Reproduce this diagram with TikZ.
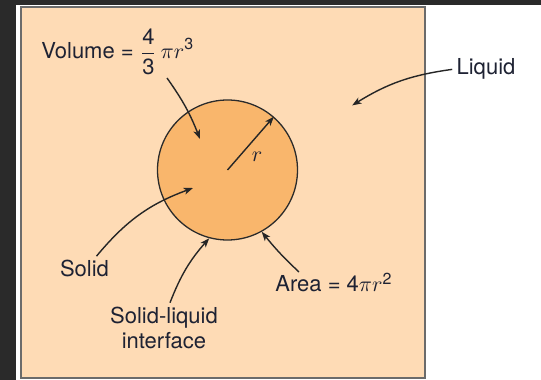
\documentclass[tikz,border=0pt]{standalone}
\usepackage{fontspec}
\setmainfont{TeX Gyre Heros}
\usepackage{tikz}
\usetikzlibrary{arrows.meta, positioning, calc}
\definecolor{pagedark}{HTML}{2A2A2A}
\definecolor{liqfill}{HTML}{FEDBB5}
\definecolor{liqline}{HTML}{6B6B6B}
\definecolor{solfill}{HTML}{F9B66C}
\definecolor{solline}{HTML}{2B2B2B}
\definecolor{lbltext}{HTML}{1E2233}
\tikzset{
  lbl/.style     = {font=\fontsize{11}{12.5}\selectfont, text=lbltext,
                     inner sep=0pt},
  sphere/.style  = {circle, draw=solline, fill=solfill, line width=0.65pt,
                     minimum size=70pt, inner sep=0pt},
  tank/.style    = {draw=liqline, fill=liqfill, line width=1pt},
  ptr/.style     = {draw=black!85, line width=0.7pt,
                     -{Stealth[length=4.6pt, width=3.4pt, inset=1.2pt]}},
}

\begin{document}
\begin{tikzpicture}[x=0.5pt, y=0.5pt]
        \useasboundingbox (0,0) rectangle (541,380);
        % page frame
        \fill[pagedark] (0,375) rectangle (541,380);
        \fill[pagedark] (0,0) rectangle (15.5,380);
        \draw[tank] (20.7,2) rectangle (425,372.7);

        \node[sphere] (solid) at (227.5,210) {};
        \node[lbl] (rlbl) at ($(solid.center)+(29.5,13)$) {$r$};

        \node[lbl, anchor=base west] (vol) at (41,321)
             {Volume = $\displaystyle\frac{\mbox{4}}{\mbox{3}}\,\pi r^{\mbox{\footnotesize 3}}$};
        \node[lbl, anchor=base, inner sep=2pt] (liquid) at (486,305) {Liquid};
        \node[lbl, anchor=base, inner sep=2pt] (sol) at (84.5,103) {Solid};
        \node[lbl, align=center, inner sep=2pt] (iface) at (164,52)
             {Solid-liquid\\interface};
        \node[lbl, anchor=base west] (area) at (275,88)
             {Area = 4$\pi r^{\mbox{\footnotesize 2}}$};

        \coordinate (voltip) at ($(solid.center)+(-27.5,31)$);
        \coordinate (soltip) at ($(solid.center)+(-34.5,-18)$);

        \draw[ptr] (solid.center) -- (solid.49);
        \draw[ptr] ([shift={(63pt,-9.5pt)}]vol.base west) to[bend left=7] (voltip);
        \draw[ptr] (liquid.west) to[bend right=12] ++(-100,-36);
        \draw[ptr] ([xshift=6pt]sol.north) to[bend left=15] (soltip);
        \draw[ptr] ([xshift=3pt]iface.north) to[bend left=10] (solid.255);
        \draw[ptr] ([shift={(12pt,10pt)}]area.base west) to[bend left=4] (solid.299);
    \end{tikzpicture}
\end{document}
